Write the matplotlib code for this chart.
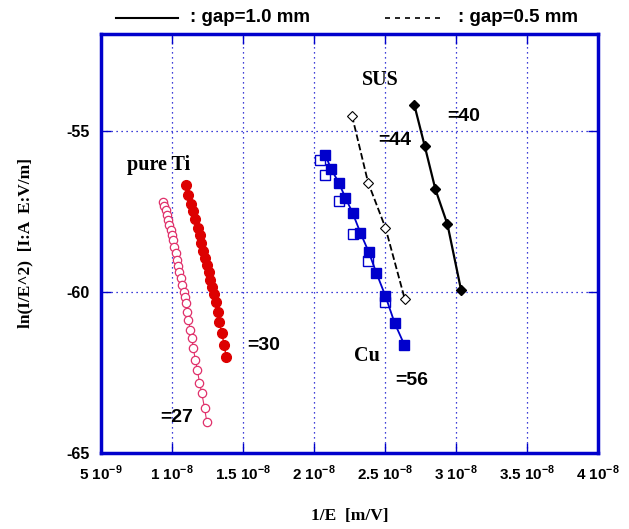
import numpy as np
import matplotlib.pyplot as plt
from matplotlib.lines import Line2D

# pure Ti, filled (beta=30)
ti_fill_x = [1.099, 1.116, 1.133, 1.151, 1.163, 1.182, 1.198, 1.205, 1.221, 1.233, 1.245,
             1.257, 1.269, 1.281, 1.297, 1.311, 1.327, 1.332, 1.351, 1.367, 1.381]
ti_fill_y = [-56.69, -57.00, -57.26, -57.50, -57.75, -58.01, -58.24, -58.50, -58.73, -58.96, -59.17,
             -59.38, -59.64, -59.86, -60.08, -60.31, -60.62, -60.93, -61.29, -61.65, -62.01]
# pure Ti, open (beta=27)
ti_open_x = [0.940, 0.944, 0.958, 0.968, 0.975, 0.982, 0.991, 0.998, 1.010, 1.015, 1.027,
             1.034, 1.045, 1.052, 1.062, 1.069, 1.081, 1.092, 1.099, 1.109, 1.116, 1.128,
             1.139, 1.151, 1.163, 1.179, 1.193, 1.210, 1.229, 1.245]
ti_open_y = [-57.21, -57.34, -57.47, -57.62, -57.78, -57.93, -58.09, -58.24, -58.40, -58.60, -58.81,
             -59.02, -59.20, -59.38, -59.58, -59.79, -60.00, -60.15, -60.36, -60.62, -60.88, -61.17,
             -61.44, -61.75, -62.10, -62.41, -62.82, -63.15, -63.61, -64.03]
# Cu
cu_fill_x = [2.080, 2.122, 2.174, 2.221, 2.272, 2.326, 2.385, 2.439, 2.503, 2.569, 2.637]
cu_fill_y = [-55.76, -56.20, -56.61, -57.08, -57.55, -58.16, -58.76, -59.41, -60.13, -60.98, -61.65]
cu_open_x = [2.040, 2.080, 2.174, 2.272, 2.381, 2.503]
cu_open_y = [-55.91, -56.38, -57.19, -58.19, -59.05, -60.31]
# SUS
sus05_x = [2.268, 2.381, 2.503, 2.639]
sus05_y = [-54.54, -56.61, -58.01, -60.22]
sus10_x = [2.707, 2.780, 2.855, 2.940, 3.036]
sus10_y = [-54.21, -55.48, -56.82, -57.91, -59.95]

xticks = [0.5, 1.0, 1.5, 2.0, 2.5, 3.0, 3.5, 4.0]
xticklabels = [r'5 10$^{\mathbf{-9}}$', r'1 10$^{\mathbf{-8}}$', r'1.5 10$^{\mathbf{-8}}$',
               r'2 10$^{\mathbf{-8}}$', r'2.5 10$^{\mathbf{-8}}$', r'3 10$^{\mathbf{-8}}$',
               r'3.5 10$^{\mathbf{-8}}$', r'4 10$^{\mathbf{-8}}$']
yticks = [-65, -60, -55]

blue = '#0000cc'
sans = 'Liberation Sans'
serif = 'Liberation Serif'
plt.rcParams['mathtext.fontset'] = 'custom'
plt.rcParams['mathtext.bf'] = 'Liberation Sans:bold'
plt.rcParams['mathtext.rm'] = 'Liberation Sans:bold'

fig = plt.figure(figsize=(6.29, 5.29), dpi=100)
ax = fig.add_axes([0.1606, 0.1437, 0.7901, 0.7920])

sc = 1e-8
ax.plot(np.array(ti_open_x) * sc, ti_open_y, '-o', color='#e0306a', mfc='white', ms=6, lw=0.8, mew=0.9)
ax.plot(np.array(ti_fill_x) * sc, ti_fill_y, '-o', color='#dd0000', ms=7, lw=1)
ax.plot(np.array(cu_open_x) * sc, cu_open_y, 's', color=blue, mfc='white', ms=6.5, mew=1)
ax.plot(np.array(cu_fill_x) * sc, cu_fill_y, '-s', color=blue, ms=6.5, lw=1.3)
ax.plot(np.array(sus05_x) * sc, sus05_y, '--D', color='black', mfc='white', ms=5, lw=1.3, mew=0.8)
ax.plot(np.array(sus10_x) * sc, sus10_y, '-D', color='black', ms=5.5, lw=1.6)

ax.set_xlim(0.5e-8, 4.0e-8)
ax.set_ylim(-65, -52)
ax.set_xticks(np.array(xticks) * sc)
ax.set_xticklabels(xticklabels, fontfamily=sans, fontweight='bold', fontsize=11)
ax.set_yticks(yticks)
ax.set_yticklabels([str(v) for v in yticks], fontfamily=sans, fontweight='bold', fontsize=11.5)
ax.tick_params(direction='in', length=7, width=1, color=blue, top=True, right=True, pad=8)
ax.grid(True, color=blue, linestyle=(0, (1, 3)), linewidth=0.9)
for s in ax.spines.values():
    s.set_color(blue)
    s.set_linewidth(2.5)

ax.set_xlabel('1/E  [m/V]', fontfamily=serif, fontweight='bold', fontsize=12.5, labelpad=18)
ax.set_ylabel('ln(I/E^2)  [I:A  E:V/m]', fontfamily=serif, fontweight='bold', fontsize=12.5, labelpad=24)

# annotations
ax.text(0.684e-8, -56.07, 'pure Ti', fontfamily=serif, fontweight='bold', fontsize=14.5, va='center')
ax.text(2.34e-8, -53.43, 'SUS', fontfamily=serif, fontweight='bold', fontsize=14.5, va='center')
ax.text(2.284e-8, -62.0, 'Cu', fontfamily=serif, fontweight='bold', fontsize=14.5, va='center')
for x, y, t in [(1.53e-8, -61.65, '=30'), (0.916e-8, -63.9, '=27'), (2.57e-8, -62.74, '=56'),
                (2.45e-8, -55.3, '=44'), (2.94e-8, -54.55, '=40')]:
    ax.text(x, y, t, fontfamily=sans, fontweight='bold', fontsize=14, va='center')

# legend above the axes
fig.add_artist(Line2D([116 / 629, 178 / 629], [1 - 18 / 529] * 2, color='black', lw=1.5))
fig.text(190 / 629, 1 - 18 / 529, ': gap=1.0 mm', fontfamily=sans, fontweight='bold', fontsize=13.5, va='center')
fig.add_artist(Line2D([385 / 629, 445 / 629], [1 - 18 / 529] * 2, color='black', lw=1.2, ls=(0, (3, 3))))
fig.text(458 / 629, 1 - 18 / 529, ': gap=0.5 mm', fontfamily=sans, fontweight='bold', fontsize=13.5, va='center')

fig.savefig('out.png', dpi=100)
